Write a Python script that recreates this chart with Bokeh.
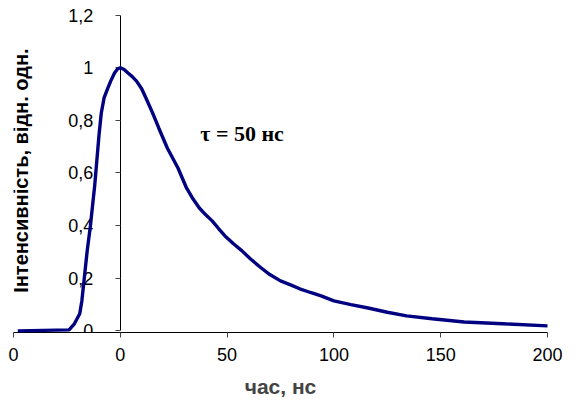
import math
from bokeh.plotting import figure
from bokeh.models import Range1d, FixedTicker, Label
from bokeh.embed import file_html
from bokeh.resources import INLINE

# data (time in ns, normalized intensity)
time_ns = [-48, -24, -21.5, -19, -18, -16.5, -15.5, -14, -13, -12, -11, -10,
           -8.9, -7.6, -5.8, -4.5, -2.7, -1.3, 0, 1.8, 3.6, 5.6, 7.6, 10, 12,
           15, 18, 20, 22, 24.5, 27, 29, 31, 34, 37, 40, 43, 46, 49, 53, 57,
           61, 66, 70, 75, 80, 84, 89, 94, 100, 108, 116, 125, 134, 146, 161,
           179, 200]
intensity = [0.0, 0.004, 0.027, 0.065, 0.114, 0.228, 0.304, 0.399, 0.475, 0.551,
             0.646, 0.741, 0.828, 0.885, 0.923, 0.949, 0.98, 0.995, 1.0, 0.993,
             0.98, 0.966, 0.949, 0.92, 0.885, 0.83, 0.771, 0.733, 0.695, 0.657,
             0.619, 0.581, 0.543, 0.502, 0.467, 0.441, 0.418, 0.389, 0.361,
             0.331, 0.304, 0.273, 0.239, 0.214, 0.19, 0.174, 0.16, 0.146, 0.133,
             0.114, 0.1, 0.087, 0.071, 0.057, 0.046, 0.034, 0.027, 0.019]

x_ticks = [-50, 0, 50, 100, 150, 200]
x_tick_labels = ["0", "0", "50", "100", "150", "200"]
y_ticks = [0, 0.2, 0.4, 0.6, 0.8, 1.0, 1.2]
y_tick_labels = ["0", "0,2", "0,4", "0,6", "0,8", "1", "1,2"]

x_title = "час, нс"
y_title = "Інтенсивність, відн. одн."
note = "τ = 50 нс"

p = figure(width=588, height=405, output_backend="svg", toolbar_location=None,
           x_range=Range1d(-50, 200), y_range=Range1d(-0.006, 1.24),
           min_border_left=13, min_border_right=41, min_border_top=4,
           min_border_bottom=73)
p.outline_line_color = None
p.xgrid.visible = False
p.ygrid.visible = False
p.background_fill_color = "white"
p.border_fill_color = "white"

font = "Liberation Sans"

for ax in (p.xaxis[0], p.yaxis[0]):
    ax.axis_line_color = "black"
    ax.axis_line_width = 1
    ax.major_tick_line_color = "#444444"
    ax.major_tick_out = 5
    ax.major_tick_in = 0
    ax.minor_tick_line_color = None
    ax.major_label_text_font = font
    ax.major_label_text_font_size = "18px"
    ax.major_label_text_color = "black"

p.xaxis.ticker = FixedTicker(ticks=x_ticks)
p.xaxis.major_label_overrides = {t: l for t, l in zip(x_ticks, x_tick_labels)}
p.xaxis.major_label_standoff = 10
p.xaxis.axis_label = x_title
p.xaxis.axis_label_text_font = font
p.xaxis.axis_label_text_font_style = "bold"
p.xaxis.axis_label_text_font_size = "21px"
p.xaxis.axis_label_standoff = 11

p.yaxis.fixed_location = 0
p.yaxis.bounds = (0, 1.2)
p.yaxis.ticker = FixedTicker(ticks=y_ticks)
p.yaxis.major_label_overrides = {t: l for t, l in zip(y_ticks, y_tick_labels)}
p.yaxis.major_label_standoff = 22

p.line(time_ns, intensity, line_color="#000080", line_width=3.4, level="overlay")

p.add_layout(Label(x=-46.5, y=0.609, text=y_title, angle=math.pi / 2,
                   text_align="center", text_baseline="middle",
                   text_font=font, text_font_style="bold",
                   text_font_size="20px", text_color="black"))
p.add_layout(Label(x=57, y=0.75, text=note, text_align="center",
                   text_baseline="middle", text_font="Liberation Serif",
                   text_font_style="bold", text_font_size="22px",
                   text_color="black"))

open("out.html", "w").write(file_html(p, INLINE))
